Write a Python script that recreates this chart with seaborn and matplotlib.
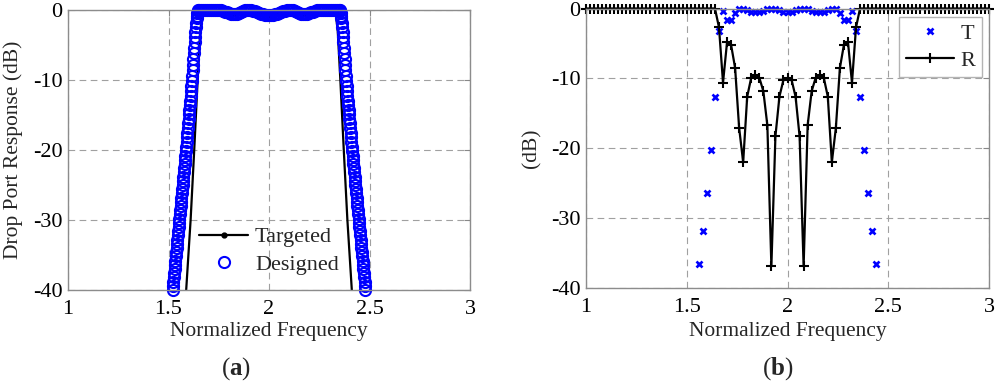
import numpy as np
import pandas as pd
import matplotlib
matplotlib.use("Agg")
import matplotlib.pyplot as plt
from matplotlib.lines import Line2D
import seaborn as sns

# ---------------- data: panel (a) ----------------
targeted_freq = [1.588, 1.610, 1.628, 1.645, 1.658, 1.668, 1.68, 1.75, 1.825, 1.90, 2.00,
                 2.10, 2.175, 2.25, 2.32, 2.332, 2.342, 2.355, 2.372, 2.390, 2.412]
targeted_db = [-40.0, -30.0, -20.0, -10.0, -3.0, -0.5, 0.0, 0.0, -0.55, 0.0, -0.7,
               0.0, -0.55, 0.0, 0.0, -0.5, -3.0, -10.0, -20.0, -30.0, -40.0]

designed_left_db = [-40.0, -39.4, -38.8, -38.2, -37.6, -37.0, -36.4, -35.8, -35.2, -34.6,
                    -34.0, -33.4, -32.8, -32.2, -31.6, -31.0, -30.4, -29.8, -29.2, -28.6,
                    -28.0, -27.4, -26.8, -26.2, -25.6, -25.0, -24.4, -23.8, -23.2, -22.6,
                    -22.0, -21.4, -20.8, -20.1, -19.5, -18.8, -18.2, -17.5, -16.9, -16.2,
                    -15.6, -14.9, -14.3, -13.6, -13.0, -12.3, -11.6, -10.9, -10.2, -9.4,
                    -8.6, -7.8, -7.0, -6.2, -5.4, -4.6, -3.8, -3.1, -2.4, -1.8,
                    -1.2, -0.8, -0.4, -0.2, -0.05]
designed_pass_db = [0.0, 0.0, 0.0, 0.0, 0.0, -0.02, -0.03, -0.03, -0.02, 0.0,
                    -0.02, -0.05, -0.12, -0.22, -0.33, -0.43, -0.5, -0.55, -0.55, -0.5,
                    -0.4, -0.28, -0.15, -0.06, -0.01, 0.0, -0.02, -0.08, -0.18, -0.3,
                    -0.42, -0.53, -0.62, -0.68, -0.7, -0.7, -0.7, -0.68, -0.62, -0.53,
                    -0.42, -0.3, -0.18, -0.08, -0.02, 0.0, -0.01, -0.06, -0.15, -0.28,
                    -0.4, -0.5, -0.55, -0.55, -0.5, -0.43, -0.33, -0.22, -0.12, -0.05,
                    -0.02, 0.0, -0.02, -0.03, -0.03, -0.02, 0.0, 0.0, 0.0, 0.0, 0.0]
designed_right_db = [-0.05, -0.2, -0.4, -0.8, -1.2, -1.8, -2.4, -3.1, -3.8, -4.6,
                     -5.4, -6.2, -7.0, -7.8, -8.6, -9.4, -10.2, -10.9, -11.6, -12.3,
                     -13.0, -13.6, -14.3, -14.9, -15.6, -16.2, -16.9, -17.5, -18.2, -18.8,
                     -19.5, -20.1, -20.8, -21.4, -22.0, -22.6, -23.2, -23.8, -24.4, -25.0,
                     -25.6, -26.2, -26.8, -27.4, -28.0, -28.6, -29.2, -29.8, -30.4, -31.0,
                     -31.6, -32.2, -32.8, -33.4, -34.0, -34.6, -35.2, -35.8, -36.4, -37.0,
                     -37.6, -38.2, -38.8, -39.4, -40.0]

# ---------------- data: panel (b) ----------------
r_db = [0.0, 0.0, 0.0, 0.0, 0.0, 0.0, 0.0, 0.0, 0.0, 0.0,
        0.0, 0.0, 0.0, 0.0, 0.0, 0.0, 0.0, 0.0, 0.0, 0.0,
        0.0, 0.0, 0.0, 0.0, 0.0, 0.0, 0.0, 0.0, 0.0, 0.0,
        0.0, 0.0, 0.0, -2.7, -10.6, -4.8, -5.2, -8.5, -17.1, -22.0,
        -12.6, -9.9, -9.5, -9.9, -11.8, -16.7, -36.9, -18.3, -12.6, -10.2,
        -10.0, -10.2, -12.6, -18.3, -36.9, -16.7, -11.8, -9.9, -9.5, -9.9,
        -12.6, -22.0, -17.1, -8.5, -5.2, -4.8, -10.6, -2.7, 0.0, 0.0,
        0.0, 0.0, 0.0, 0.0, 0.0, 0.0, 0.0, 0.0, 0.0, 0.0,
        0.0, 0.0, 0.0, 0.0, 0.0, 0.0, 0.0, 0.0, 0.0, 0.0,
        0.0, 0.0, 0.0, 0.0, 0.0, 0.0, 0.0, 0.0, 0.0, 0.0,
        0.0]
nan = np.nan
t_db = [nan, nan, nan, nan, nan, nan, nan, nan, nan, nan,
        nan, nan, nan, nan, nan, nan, nan, nan, nan, nan,
        nan, nan, nan, nan, nan, nan, nan, nan, -36.5, -31.8,
        -26.4, -20.2, -12.6, -3.2, -0.4, -1.7, -1.6, -0.7, -0.1, -0.05,
        -0.25, -0.45, -0.5, -0.45, -0.3, -0.1, 0.0, -0.07, -0.25, -0.45,
        -0.46, -0.45, -0.25, -0.07, 0.0, -0.1, -0.3, -0.45, -0.5, -0.45,
        -0.25, -0.05, -0.1, -0.7, -1.6, -1.7, -0.4, -3.2, -12.6, -20.2,
        -26.4, -31.8, -36.5, nan, nan, nan, nan, nan, nan, nan,
        nan, nan, nan, nan, nan, nan, nan, nan, nan, nan,
        nan, nan, nan, nan, nan, nan, nan, nan, nan, nan,
        nan]

x_ticks = [1, 1.5, 2, 2.5, 3]
x_tick_labels = ["1", "1.5", "2", "2.5", "3"]
y_ticks = [-40, -30, -20, -10, 0]
y_tick_labels = ["-40", "-30", "-20", "-10", "0"]

# ---------------- style ----------------
sns.set_theme(style="white")
plt.rcParams["font.family"] = ["Liberation Serif", "DejaVu Serif"]
plt.rcParams["axes.unicode_minus"] = False
plt.rcParams["mathtext.fontset"] = "custom"
plt.rcParams["mathtext.rm"] = "Liberation Serif"
plt.rcParams["mathtext.bf"] = "Liberation Serif:bold"

FS = 16
LFS = 15.5
BLUE = "#0000ff"

designed_freq = np.concatenate([
    np.linspace(1.520, 1.648, len(designed_left_db)),
    np.linspace(1.65, 2.35, len(designed_pass_db)),
    np.linspace(2.352, 2.480, len(designed_right_db)),
])
designed = pd.DataFrame({"freq": designed_freq,
                         "db": designed_left_db + designed_pass_db + designed_right_db})
targeted = pd.DataFrame({"freq": targeted_freq, "db": targeted_db})
freq_b = np.linspace(1, 3, len(r_db))
dfb = pd.DataFrame({"freq": freq_b, "R": r_db, "T": t_db})

fig = plt.figure(figsize=(10, 3.87), dpi=100)
ax1 = fig.add_axes([0.068, 0.2506, 0.402, 0.7235])
ax2 = fig.add_axes([0.586, 0.2558, 0.403, 0.7222])

# ---- panel (a) ----
hidden = [i for i, v in enumerate(targeted_db) if v > -1.0]
sns.lineplot(data=targeted, x="freq", y="db", ax=ax1, color="black", linewidth=1.6,
             marker="o", markersize=3.5, markeredgecolor="black", markeredgewidth=0.5,
             markevery=hidden, estimator=None, sort=False, legend=False)
sns.lineplot(data=designed, x="freq", y="db", ax=ax1, color=BLUE, linestyle="",
             marker="o", markersize=8, markerfacecolor="none", markeredgecolor=BLUE,
             markeredgewidth=1.5, estimator=None, sort=False, legend=False, clip_on=False)

# ---- panel (b) ----
sns.lineplot(data=dfb, x="freq", y="T", ax=ax2, color=BLUE, linestyle="",
             marker="x", markersize=4.3, markeredgecolor=BLUE, markeredgewidth=1.9,
             estimator=None, sort=False, legend=False, clip_on=False)
sns.lineplot(data=dfb, x="freq", y="R", ax=ax2, color="black", linewidth=1.6,
             marker="+", markersize=6.5, markeredgecolor="black", markeredgewidth=1.5,
             estimator=None, sort=False, legend=False, clip_on=False)

for ax in (ax1, ax2):
    ax.set_xlim(1, 3)
    ax.set_ylim(-40, 0)
    ax.set_xticks(x_ticks, labels=x_tick_labels)
    ax.set_yticks(y_ticks, labels=y_tick_labels)
    ax.tick_params(direction="in", length=4, width=0.8, color="#888888",
                   labelsize=FS, labelcolor="black", top=True, right=True, pad=4)
    ax.tick_params(axis="x", pad=7)
    ax.grid(True, linestyle=(0, (6, 4)), color="#a0a0a0", linewidth=0.8)
    ax.set_axisbelow(True)
    for s in ax.spines.values():
        s.set_color("#8c8c8c")
        s.set_linewidth(1.0)
    ax.set_xlabel("Normalized Frequency", fontsize=LFS)

ax1.set_ylabel("Drop Port Response (dB)", fontsize=LFS)
ax2.set_ylabel("(dB)", fontsize=LFS)
ax1.yaxis.set_label_coords(-0.112, 0.5)
ax2.yaxis.set_label_coords(-0.110, 0.5)
ax1.xaxis.set_label_coords(0.5, -0.113)
ax2.xaxis.set_label_coords(0.5, -0.120)

# legends
h_targ = Line2D([], [], color="black", linewidth=1.6, marker="o", markersize=3.5,
                markeredgecolor="black")
h_des = Line2D([], [], color=BLUE, linestyle="", marker="o", markersize=8,
               markerfacecolor="none", markeredgecolor=BLUE, markeredgewidth=1.5)
ax1.legend([h_targ, h_des], ["Targeted", "Designed"], loc="center",
           bbox_to_anchor=(0.50, 0.14), frameon=False, fontsize=FS,
           handlelength=2.2, handletextpad=0.3, labelspacing=0.3, numpoints=1)

h_t = Line2D([], [], color=BLUE, linestyle="", marker="x", markersize=4.3,
             markeredgecolor=BLUE, markeredgewidth=1.9)
h_r = Line2D([], [], color="black", linewidth=1.6, marker="+", markersize=6.5,
             markeredgecolor="black", markeredgewidth=1.5)
leg2 = ax2.legend([h_t, h_r], ["T", "R"], loc="upper right",
                  bbox_to_anchor=(0.983, 0.971), borderaxespad=0, frameon=True,
                  fancybox=False, edgecolor="#b4b4b4", framealpha=1, fontsize=FS,
                  handlelength=2.15, handletextpad=0.3, labelspacing=0.28,
                  borderpad=0.3, numpoints=1)
leg2.get_frame().set_linewidth(1.0)

fig.text(0.236, 1 - 369 / 387, r"($\mathbf{a}$)", ha="center", va="center", fontsize=18)
fig.text(0.778, 1 - 369 / 387, r"($\mathbf{b}$)", ha="center", va="center", fontsize=18)

fig.savefig("out.png", dpi=100, facecolor="white")
